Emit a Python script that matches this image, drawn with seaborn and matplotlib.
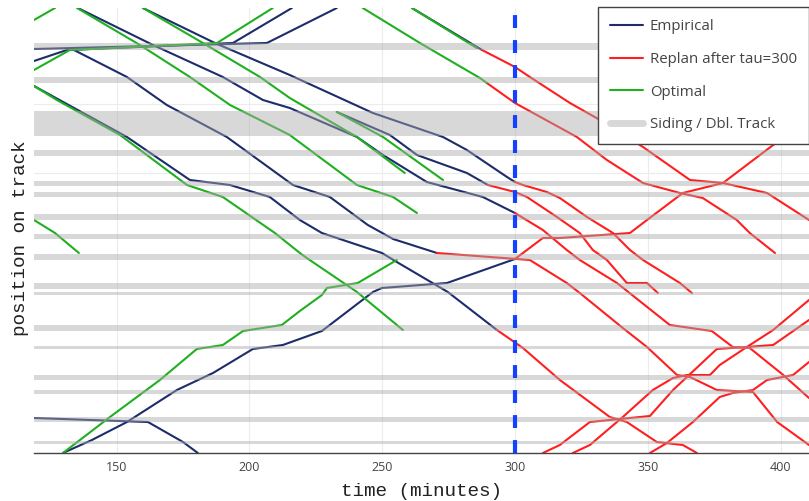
import matplotlib
matplotlib.use("Agg")
import matplotlib.pyplot as plt
from matplotlib.lines import Line2D
import pandas as pd
import seaborn as sns

# time (minutes) vs position on track (0 = bottom end of the line)
TAU = 300

siding_lo = [403, 370, 317, 297, 267, 256, 233, 214, 193, 164, 158, 122, 104, 73, 59, 31, 9]
siding_hi = [410, 376, 342, 303, 272, 261, 239, 219, 199, 170, 161, 128, 107, 78, 63, 36, 12]

x_ticks = [150, 200, 250, 300, 350, 400]

# --- empirical train runs ---
emp_a = [(118.9, 404), (206.6, 410), (232.9, 445)]
emp_b = [(118.9, 392), (131.3, 403), (193.8, 410), (216.0, 445)]
emp_c = [(133.2, 404), (153.9, 376), (168.9, 348), (191.5, 316), (216.4, 268), (230.3, 256),
         (240.5, 236), (244.6, 228), (254.1, 214), (270.6, 200)]
emp_d = [(135.4, 445), (163.7, 408), (190.0, 376), (205.1, 353), (215.2, 345), (240.5, 316),
         (250.3, 298), (266.8, 271), (287.9, 256), (300.0, 240)]
emp_e = [(159.9, 445), (187.0, 410), (215.2, 378), (246.5, 340), (272.9, 316), (281.9, 303),
         (297.0, 276), (300.0, 271)]
emp_f = [(232.9, 341), (252.9, 318), (263.1, 298), (281.9, 280), (289.8, 268)]
emp_g = [(118.9, 367), (153.9, 316), (177.6, 273), (192.7, 268), (207.7, 256), (219.0, 233),
         (227.3, 220), (249.9, 200), (255.5, 191), (274.7, 161), (293.2, 123)]
emp_h = [(129.8, 0), (140.7, 13), (153.9, 31), (172.7, 63), (186.3, 80), (201.3, 104),
         (212.6, 108), (227.3, 122), (246.5, 161), (249.9, 165), (274.4, 170), (300.0, 194)]
emp_i = [(118.9, 35), (161.8, 31), (175.0, 11), (180.6, 0)]
emp_j = [(261.2, 445), (287.6, 403)]

# --- replanned runs after tau ---
rep_a = [(287.6, 403), (300.0, 386), (305.6, 376), (320.7, 350), (332.0, 333), (348.2, 306),
         (365.9, 273), (378.3, 270), (394.9, 260), (410.7, 233)]
rep_b = [(289.4, 370), (300.0, 350), (323.3, 316), (334.6, 293), (348.2, 270), (362.1, 260),
         (370.7, 255), (383.5, 233), (388.4, 220), (397.9, 200)]
rep_c = [(300.0, 271), (303.0, 268), (312.0, 261), (316.9, 255), (327.1, 236), (336.9, 220),
         (343.3, 203), (348.2, 193), (362.1, 170), (366.6, 160)]
rep_d = [(289.8, 268), (300.0, 261), (304.5, 256), (315.8, 236), (324.4, 220), (329.3, 203),
         (334.6, 193), (342.1, 170), (349.7, 170), (353.8, 160)]
rep_e = [(300.0, 240), (310.5, 223), (319.5, 203), (324.4, 193), (338.4, 170), (358.3, 128),
         (374.1, 122), (382.0, 106), (388.4, 105), (401.0, 78), (410.7, 55)]
rep_f = [(270.6, 200), (305.6, 193), (319.5, 170), (324.4, 160), (340.6, 125), (349.7, 106),
         (361.0, 78), (365.9, 76), (376.0, 63), (389.6, 61), (398.7, 31), (410.7, 8)]
rep_g = [(293.2, 123), (303.0, 105), (316.9, 73), (335.7, 36), (342.1, 31), (353.4, 11),
         (363.2, 8), (368.5, 0)]
rep_h = [(300.0, 194), (310.5, 215), (316.9, 215), (343.3, 220), (349.7, 233), (363.2, 260),
         (378.3, 270), (397.2, 308), (410.7, 330)]
rep_i = [(310.5, 0), (316.9, 8), (328.2, 31), (350.8, 37), (359.5, 63), (376.0, 104),
         (387.3, 106), (397.2, 108), (410.7, 133)]
rep_j = [(321.8, 0), (328.2, 8), (340.6, 36), (351.9, 63), (359.5, 75), (364.7, 78),
         (373.4, 78), (377.1, 88), (387.3, 106), (397.2, 123), (410.7, 153)]
rep_k = [(350.8, 0), (357.2, 10), (367.0, 31), (377.1, 56), (382.0, 60), (389.6, 63),
         (394.9, 73), (404.7, 78), (410.7, 91)]

# --- optimal plan ---
opt_a = [(118.9, 433), (126.8, 445)]
opt_b = [(118.9, 383), (132.4, 403), (187.8, 410), (208.8, 445)]
opt_c = [(135.1, 445), (158.8, 408), (177.6, 376), (192.7, 348), (215.2, 318), (240.5, 268),
         (254.1, 256), (263.1, 240)]
opt_d = [(159.9, 445), (182.5, 410), (204.0, 376), (215.2, 355), (240.5, 316), (258.5, 280)]
opt_e = [(242.7, 445), (264.2, 410), (286.8, 375), (289.4, 370)]
opt_f = [(261.2, 445), (285.6, 405)]
opt_g = [(232.9, 341), (250.3, 316), (272.9, 273)]
opt_h = [(118.9, 367), (127.5, 353), (151.3, 318), (176.5, 268), (190.0, 256), (209.6, 220),
         (219.0, 200), (221.6, 195), (240.5, 161), (257.8, 123)]
opt_i = [(118.9, 233), (126.8, 220), (135.8, 200)]
opt_j = [(129.8, 0), (147.5, 36), (166.3, 73), (180.2, 104), (190.0, 108), (197.6, 122),
         (212.2, 128), (219.0, 142), (227.3, 158), (229.2, 165), (240.8, 170), (255.5, 193)]

empirical = [emp_a, emp_b, emp_c, emp_d, emp_e, emp_f, emp_g, emp_h, emp_i, emp_j]
replan = [rep_a, rep_b, rep_c, rep_d, rep_e, rep_f, rep_g, rep_h, rep_i, rep_j, rep_k]
optimal = [opt_a, opt_b, opt_c, opt_d, opt_e, opt_f, opt_g, opt_h, opt_i, opt_j]

NAVY = "#1d2d6c"
RED = "#ff1f1f"
GREEN = "#1fb01f"
SIDING = "#aaaaaa"


def to_frame(trains):
    rows = []
    for i, tr in enumerate(trains):
        for t, p in tr:
            rows.append({"train": i, "time": t, "pos": p})
    return pd.DataFrame(rows)


sns.set_style("white")
plt.rcParams["font.family"] = ["Open Sans", "DejaVu Sans"]

fig = plt.figure(figsize=(8.09, 5.01), dpi=100)
ax = fig.add_axes([34 / 809, 48 / 501, 775 / 809, 445 / 501])

for df, col in [(to_frame(empirical), NAVY), (to_frame(replan), RED), (to_frame(optimal), GREEN)]:
    sns.lineplot(data=df, x="time", y="pos", units="train", estimator=None, sort=False,
                 color=col, lw=1.5, ax=ax, legend=False, zorder=2)

for lo, hi in zip(siding_lo, siding_hi):
    ax.axhspan(lo, hi, color=SIDING, alpha=0.45, lw=0, zorder=3)

ax.axvline(TAU, color="#1440ff", lw=3, ls=(0, (3.1, 2.9)), zorder=5)

ax.set_xlim(118.9, 410.7)
ax.set_ylim(0, 445)
ax.set_xticks(x_ticks)
ax.set_yticks([280, 349])
ax.set_yticklabels([])
ax.grid(True, color="#ececec", lw=0.8, zorder=0)
ax.set_axisbelow(True)
for s in ["top", "right", "left"]:
    ax.spines[s].set_visible(False)
ax.spines["bottom"].set_color("#444444")
ax.spines["bottom"].set_linewidth(1.0)
ax.tick_params(axis="x", length=0, pad=6, labelsize=9, labelcolor="#444444")
ax.tick_params(axis="y", length=0)

ax.set_xlabel("time (minutes)", family="Liberation Mono", fontsize=13.9, color="#222222", labelpad=6)
ax.set_ylabel("position on track", family="Liberation Mono", fontsize=13.9, color="#222222")
ax.yaxis.set_label_coords(-0.006, 0.483)

handles = [
    Line2D([], [], color=NAVY, lw=1.5, label="Empirical"),
    Line2D([], [], color=RED, lw=1.5, label="Replan after tau=300"),
    Line2D([], [], color=GREEN, lw=1.5, label="Optimal"),
    Line2D([], [], color=SIDING, alpha=0.45, lw=5, label="Siding / Dbl. Track"),
]
leg = ax.legend(handles=handles, loc="upper right", bbox_to_anchor=(1.0, 1 - 7.3 / 501),
                bbox_transform=fig.transFigure, frameon=True, fancybox=False,
                edgecolor="#444444", framealpha=1, fontsize=10.8, borderpad=0.8,
                handlelength=2.2, handletextpad=0.47, labelspacing=1.18, borderaxespad=0)
leg.get_frame().set_linewidth(1.0)
leg.set_zorder(10)
for t in leg.get_texts():
    t.set_color("#444444")

fig.savefig("out.png", dpi=100)
